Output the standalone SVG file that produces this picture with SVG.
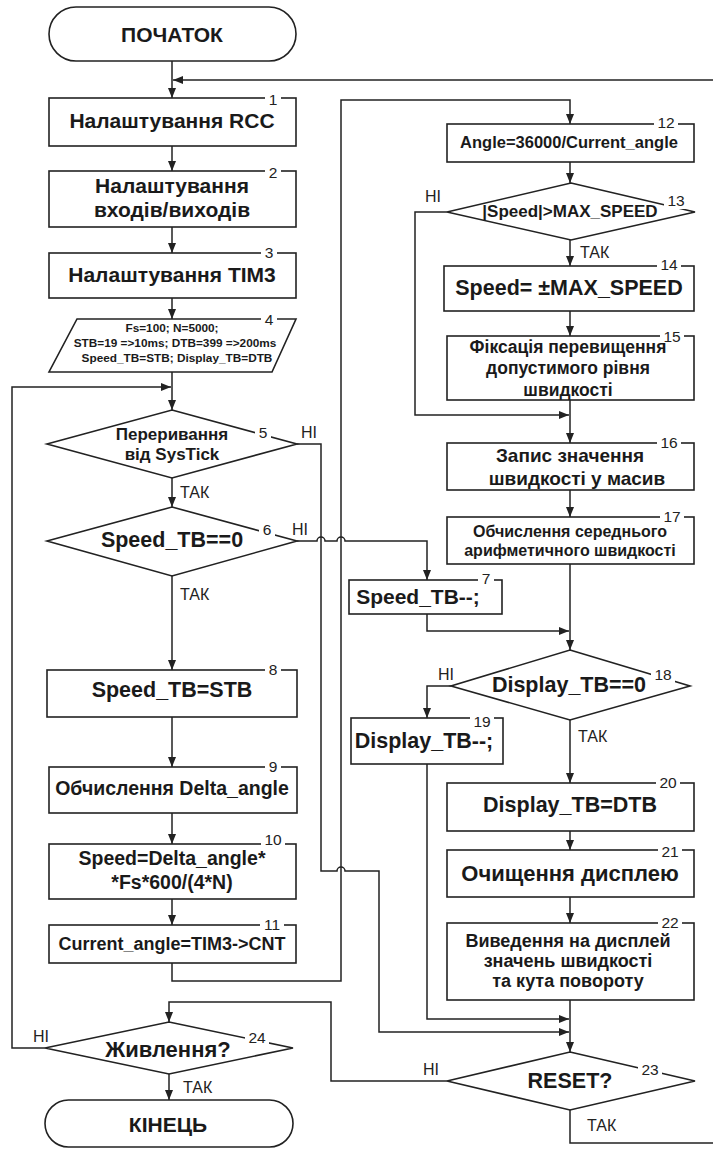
<svg xmlns="http://www.w3.org/2000/svg" width="713" height="1149" viewBox="0 0 713 1149">
<defs>
<marker id="ar" viewBox="0 0 10 8" refX="10" refY="4" markerWidth="10" markerHeight="8" markerUnits="userSpaceOnUse" orient="auto"><path d="M0 0 L10 4 L0 8 z" fill="#222"/></marker>
<style>
.s{fill:#fff;stroke:#222;stroke-width:1.6}
.c{fill:none;stroke:#222;stroke-width:1.5;marker-end:url(#ar)}
.p{fill:none;stroke:#222;stroke-width:1.5}
.t{font-family:"Liberation Sans",Arial,sans-serif;font-weight:bold;fill:#1a1a1a;text-anchor:middle}
.n{font-family:"Liberation Sans",Arial,sans-serif;font-size:15.5px;fill:#222;text-anchor:middle}
.l{font-family:"Liberation Sans",Arial,sans-serif;font-size:16px;fill:#222}
.g{fill:#fff;stroke:none}
</style>
</defs>
<rect width="713" height="1149" fill="#fff"/>
<g id="connectors">
<path class="c" d="M172 61 V98"/>
<path class="c" d="M713 80 H173"/>
<path class="c" d="M172 146 V171"/>
<path class="c" d="M172 227 V253"/>
<path class="c" d="M172 298 V319"/>
<path class="c" d="M172 372 V410"/>
<path class="c" d="M45 1048 H12 V387 H171"/>
<path class="c" d="M172 478 V507"/>
<path class="c" d="M172 576 V670"/>
<path class="c" d="M172 717 V767"/>
<path class="c" d="M172 813 V844"/>
<path class="c" d="M172 899 V925"/>
<path class="c" d="M172 963 V981 H341 V100 H570 V124"/>
<path class="c" d="M570 162 V183"/>
<path class="c" d="M570 240 V266"/>
<path class="c" d="M447 212 H415 V415 H569"/>
<path class="c" d="M570 311 V336"/>
<path class="c" d="M570 400 V443"/>
<path class="c" d="M570 490 V517"/>
<path class="c" d="M570 564 V650"/>
<path class="c" d="M297 541 H317 a4 4 0 0 1 8 0 H337 a4 4 0 0 1 8 0 H427 V580"/>
<path class="c" d="M427 614 V631 H569"/>
<path class="c" d="M297 444 H321 V871 H337 a4 4 0 0 1 8 0 H379 V1032 H569"/>
<path class="c" d="M451 686 H427 V718"/>
<path class="c" d="M427 764 V1019 H569"/>
<path class="c" d="M570 720 V783"/>
<path class="c" d="M570 831 V850"/>
<path class="c" d="M570 897 V923"/>
<path class="c" d="M570 1000 V1052"/>
<path class="c" d="M447 1081 H331 V1002 H169 V1022"/>
<path class="p" d="M570 1110 V1143 H713"/>
<path class="c" d="M169 1074 V1100"/>
<text class="l" x="301" y="438">НІ</text>
<text class="l" x="292" y="535">НІ</text>
<text class="l" x="180" y="498">ТАК</text>
<text class="l" x="180" y="600">ТАК</text>
<text class="l" x="425" y="202">НІ</text>
<text class="l" x="580" y="258">ТАК</text>
<text class="l" x="438" y="680">НІ</text>
<text class="l" x="578" y="742">ТАК</text>
<text class="l" x="423" y="1075">НІ</text>
<text class="l" x="587" y="1131">ТАК</text>
<text class="l" x="33" y="1042">НІ</text>
<text class="l" x="183" y="1093">ТАК</text>
</g>
<g id="start">
<rect class="s" x="49" y="7" width="247" height="54" rx="27"/>
<text class="t" x="172" y="42" font-size="21">ПОЧАТОК</text>
</g>
<g id="n1">
<rect class="s" x="49" y="98" width="247" height="48"/>
<rect class="g" x="265" y="92" width="16" height="14"/><text class="n" x="273" y="105">1</text>
<text class="t" x="172" y="128" font-size="21">Налаштування RCC</text>
</g>
<g id="n2">
<rect class="s" x="49" y="171" width="247" height="56"/>
<rect class="g" x="265" y="165" width="16" height="14"/><text class="n" x="273" y="178">2</text>
<text class="t" x="172" y="193" font-size="21">Налаштування</text>
<text class="t" x="172" y="217" font-size="21">входів/виходів</text>
</g>
<g id="n3">
<rect class="s" x="49" y="253" width="247" height="45"/>
<rect class="g" x="261" y="247" width="16" height="14"/><text class="n" x="269" y="258">3</text>
<text class="t" x="172" y="282" font-size="21">Налаштування TIM3</text>
</g>
<g id="n4">
<polygon class="s" points="77,319 296,319 272,372 49,372"/>
<rect class="g" x="261" y="313" width="16" height="14"/><text class="n" x="269" y="325">4</text>
<text class="t" x="172" y="332" font-size="11.8">Fs=100; N=5000;</text>
<text class="t" x="175" y="347" font-size="11.8">STB=19 =&gt;10ms; DTB=399 =&gt;200ms</text>
<text class="t" x="177" y="362" font-size="11.8">Speed_TB=STB; Display_TB=DTB</text>
</g>
<g id="n5">
<polygon class="s" points="172,410 297,444 172,478 47,444"/>
<rect class="g" x="255" y="426" width="16" height="15"/><text class="n" x="263" y="438">5</text>
<text class="t" x="172" y="440" font-size="17">Переривання</text>
<text class="t" x="172" y="460" font-size="17">від SysTick</text>
</g>
<g id="n6">
<polygon class="s" points="172,507 297,541 172,576 47,541"/>
<rect class="g" x="259" y="523" width="16" height="15"/><text class="n" x="267" y="535">6</text>
<text class="t" x="172" y="547" font-size="21.5">Speed_TB==0</text>
</g>
<g id="n7">
<rect class="s" x="349" y="580" width="153" height="34"/>
<rect class="g" x="478" y="574" width="16" height="13"/><text class="n" x="486" y="584">7</text>
<text class="t" x="418" y="604" font-size="21">Speed_TB--;</text>
</g>
<g id="n8">
<rect class="s" x="47" y="670" width="250" height="47"/>
<rect class="g" x="265" y="664" width="16" height="13"/><text class="n" x="273" y="675">8</text>
<text class="t" x="172" y="697" font-size="21.5">Speed_TB=STB</text>
</g>
<g id="n9">
<rect class="s" x="49" y="767" width="248" height="46"/>
<rect class="g" x="265" y="761" width="16" height="13"/><text class="n" x="273" y="772">9</text>
<text class="t" x="172" y="795" font-size="19.5">Обчислення Delta_angle</text>
</g>
<g id="n10">
<rect class="s" x="49" y="844" width="247" height="55"/>
<rect class="g" x="261" y="834" width="24" height="14"/><text class="n" x="273" y="845">10</text>
<text class="t" x="172" y="865" font-size="19.5">Speed=Delta_angle*</text>
<text class="t" x="172" y="889" font-size="19.5">*Fs*600/(4*N)</text>
</g>
<g id="n11">
<rect class="s" x="49" y="925" width="247" height="38"/>
<rect class="g" x="260" y="919" width="24" height="13"/><text class="n" x="272" y="930">11</text>
<text class="t" x="172" y="950" font-size="18">Current_angle=TIM3-&gt;CNT</text>
</g>
<g id="n12">
<rect class="s" x="447" y="124" width="247" height="38"/>
<rect class="g" x="654" y="117" width="24" height="13"/><text class="n" x="666" y="128">12</text>
<text class="t" x="569" y="148" font-size="16.5">Angle=36000/Current_angle</text>
</g>
<g id="n13">
<polygon class="s" points="571,183 695,212 571,240 447,212"/>
<rect class="g" x="664" y="193" width="24" height="16"/><text class="n" x="676" y="206">13</text>
<text class="t" x="570" y="217" font-size="17">|Speed|&gt;MAX_SPEED</text>
</g>
<g id="n14">
<rect class="s" x="444" y="266" width="250" height="45"/>
<rect class="g" x="657" y="259" width="24" height="13"/><text class="n" x="669" y="270">14</text>
<text class="t" x="569" y="295" font-size="21.5">Speed= ±MAX_SPEED</text>
</g>
<g id="n15">
<rect class="s" x="447" y="336" width="247" height="64"/>
<rect class="g" x="660" y="330" width="24" height="13"/><text class="n" x="672" y="342">15</text>
<text class="t" x="568" y="353" font-size="17.5">Фіксація перевищення</text>
<text class="t" x="568" y="374" font-size="17.5">допустимого рівня</text>
<text class="t" x="568" y="396" font-size="17.5">швидкості</text>
</g>
<g id="n16">
<rect class="s" x="447" y="443" width="247" height="47"/>
<rect class="g" x="657" y="437" width="24" height="13"/><text class="n" x="669" y="448">16</text>
<text class="t" x="570" y="462" font-size="19">Запис значення</text>
<text class="t" x="577" y="485" font-size="19">швидкості у масив</text>
</g>
<g id="n17">
<rect class="s" x="447" y="517" width="247" height="47"/>
<rect class="g" x="660" y="511" width="24" height="13"/><text class="n" x="672" y="522">17</text>
<text class="t" x="570" y="537" font-size="16">Обчислення середнього</text>
<text class="t" x="570" y="556" font-size="16">арифметичного швидкості</text>
</g>
<g id="n18">
<polygon class="s" points="570,650 690,686 570,720 451,686"/>
<rect class="g" x="651" y="668" width="24" height="15"/><text class="n" x="663" y="680">18</text>
<text class="t" x="569" y="692" font-size="21.5">Display_TB==0</text>
</g>
<g id="n19">
<rect class="s" x="351" y="718" width="152" height="46"/>
<rect class="g" x="470" y="712" width="24" height="13"/><text class="n" x="482" y="727">19</text>
<text class="t" x="424" y="748" font-size="21.5">Display_TB--;</text>
</g>
<g id="n20">
<rect class="s" x="447" y="783" width="247" height="48"/>
<rect class="g" x="656" y="777" width="24" height="13"/><text class="n" x="668" y="788">20</text>
<text class="t" x="570" y="812" font-size="21.5">Display_TB=DTB</text>
</g>
<g id="n21">
<rect class="s" x="447" y="850" width="247" height="47"/>
<rect class="g" x="658" y="844" width="24" height="13"/><text class="n" x="670" y="857">21</text>
<text class="t" x="570" y="881" font-size="22">Очищення дисплею</text>
</g>
<g id="n22">
<rect class="s" x="447" y="923" width="247" height="77"/>
<rect class="g" x="658" y="917" width="24" height="13"/><text class="n" x="670" y="928">22</text>
<text class="t" x="568" y="947" font-size="18">Виведення на дисплей</text>
<text class="t" x="568" y="967" font-size="18">значень швидкості</text>
<text class="t" x="568" y="987" font-size="18">та кута повороту</text>
</g>
<g id="n23">
<polygon class="s" points="570,1052 695,1081 570,1110 447,1081"/>
<rect class="g" x="638" y="1063" width="24" height="15"/><text class="n" x="650" y="1075">23</text>
<text class="t" x="570" y="1088" font-size="21.5">RESET?</text>
</g>
<g id="n24">
<polygon class="s" points="169,1022 293,1048 169,1074 45,1048"/>
<rect class="g" x="245" y="1031" width="24" height="15"/><text class="n" x="257" y="1043">24</text>
<text class="t" x="168" y="1057" font-size="22">Живлення?</text>
</g>
<g id="end">
<rect class="s" x="45" y="1100" width="248" height="47" rx="23.5"/>
<text class="t" x="168" y="1132" font-size="21">КІНЕЦЬ</text>
</g>
</svg>
